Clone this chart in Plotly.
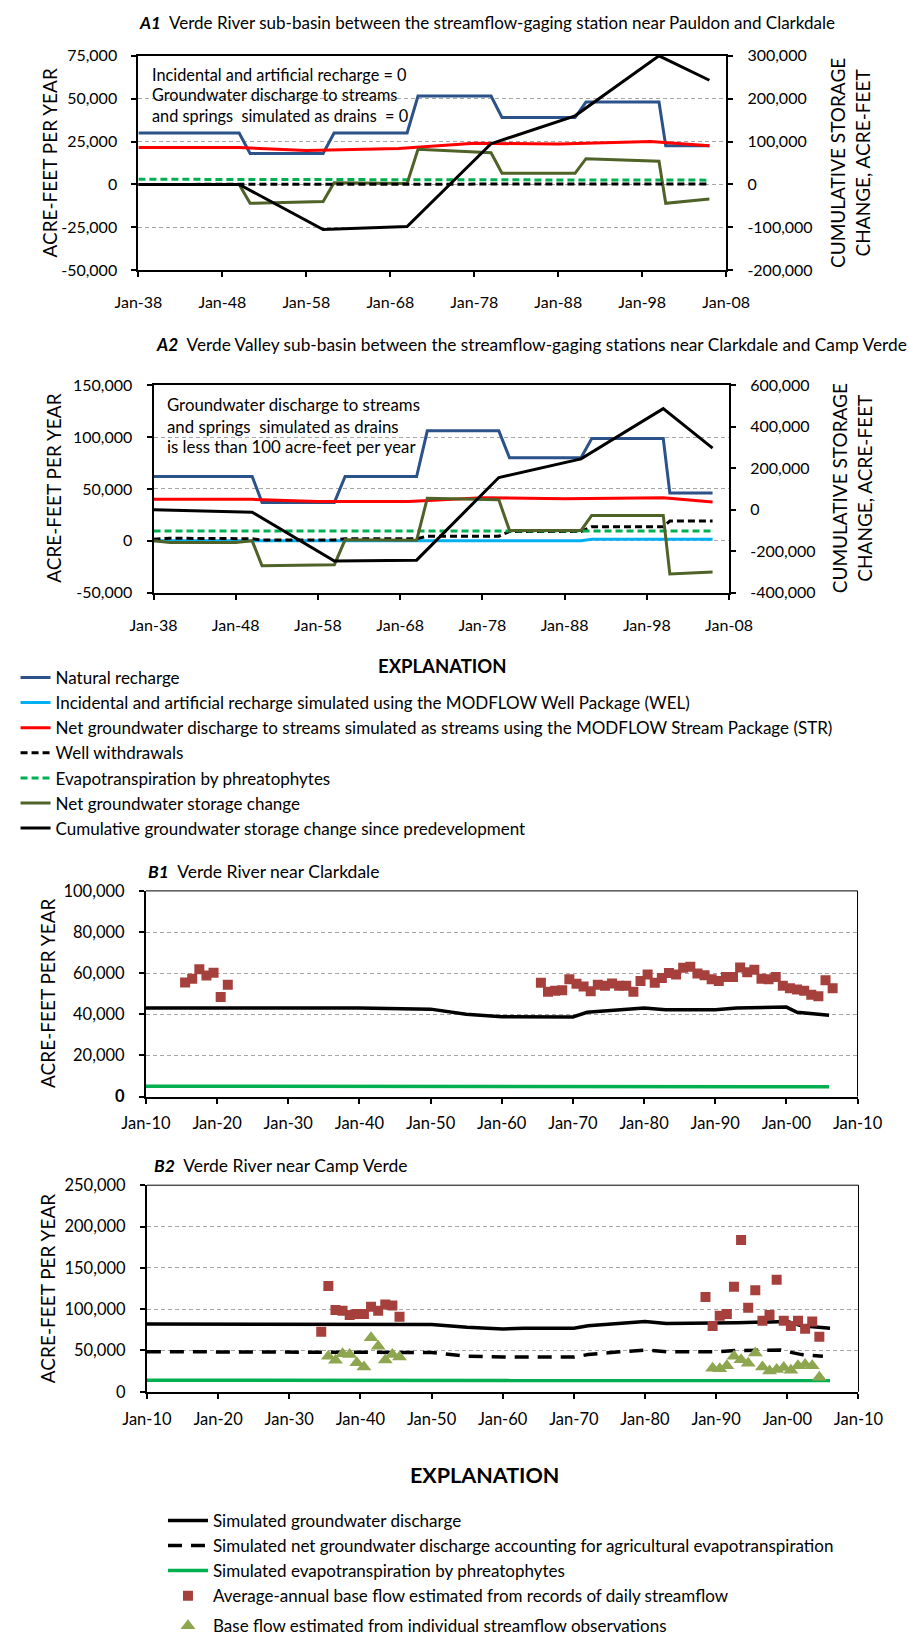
import plotly.graph_objects as go

W, H = 909, 1644
FONT = "Lato"


def fx(px):
    return px / W


def fy(py):
    return 1 - py / H


# ---------------- A1: Verde River sub-basin (Paulden to Clarkdale) ----------------
a1_step_years = [1938, 1950, 1951.3, 1960, 1961.3, 1970, 1971.3, 1980, 1981.3, 1990, 1991.3, 2000, 2000.8, 2006]
a1_natural_recharge = [30000, 30000, 18000, 18000, 30000, 30000, 51500, 51500, 39000, 39000, 48000, 48000, 22500, 22500]
a1_storage_change = [0, 0, -11000, -10000, 1000, 500, 20500, 18500, 6500, 6500, 15000, 13500, -11000, -8500]
a1_str_years = [1938, 1950, 1958, 1969, 1978, 1988, 1999, 2006]
a1_str_discharge = [21500, 21500, 19800, 21000, 24000, 23500, 25000, 22500]
a1_et_years = [1938, 1970, 2006]
a1_et = [3000, 2800, 2500]
a1_well_years = [1938, 2006]
a1_wells = [0, 300]
a1_cum_years = [1938, 1950, 1960, 1970, 1980, 1990, 2000, 2006]
a1_cumulative = [0, 0, -105000, -98000, 95000, 160000, 300000, 243000]

# ---------------- A2: Verde Valley sub-basin (Clarkdale to Camp Verde) ----------------
a2_step_years = [1938, 1950, 1951.2, 1960, 1961.3, 1970, 1971.3, 1980, 1981.3, 1990, 1991.3, 2000, 2000.8, 2006]
a2_natural_recharge = [62000, 62000, 37000, 37000, 62000, 62000, 106000, 106000, 80000, 80000, 98500, 98500, 46000, 46000]
a2_str_years = [1938, 1950, 1958, 1969, 1978, 1988, 2000, 2006]
a2_str_discharge = [40000, 40000, 37800, 38000, 41500, 40500, 41500, 37500]
a2_wel_years = [1938, 1990, 1991.3, 2006]
a2_wel_recharge = [0, 0, 1500, 1500]
a2_well_years = [1938, 1940, 1950, 1951.2, 1960, 1961.3, 1970, 1971.3, 1980, 1981.3, 1990, 1991.3, 2000, 2000.8, 2006]
a2_wells = [1500, 2500, 2000, 700, 700, 2000, 2000, 4500, 4500, 9000, 9000, 13500, 13500, 19000, 19000]
a2_et_years = [1938, 2006]
a2_et = [9500, 9500]
a2_storage_years = [1938, 1940, 1948, 1950, 1951.2, 1960, 1961.3, 1970, 1971.3, 1980, 1981.3, 1990, 1991.3, 2000, 2000.8, 2006]
a2_storage_change = [0, -1500, -1500, 0, -24000, -23000, 1000, 500, 41000, 39500, 10000, 10000, 24500, 24500, -32000, -30000]
a2_cum_years = [1938, 1950, 1960, 1970, 1980, 1990, 2000, 2006]
a2_cumulative = [0, -12000, -247000, -243000, 155000, 245000, 487000, 297000]

# ---------------- B1: Verde River near Clarkdale ----------------
b1_sim_years = [1910, 1940, 1950, 1955, 1960, 1970, 1972, 1977, 1980, 1983, 1990, 1993, 2000, 2001.5, 2006]
b1_sim_discharge = [43000, 43000, 42500, 40000, 38800, 38700, 41000, 42500, 43000, 42200, 42200, 43000, 43500, 41000, 39500]
b1_et_years = [1910, 1962, 1963, 2006]
b1_et = [5000, 5000, 4700, 4700]
b1_daily_years = [1915.5, 1916.5, 1917.5, 1918.5, 1919.5, 1920.5, 1921.5,
                  1965.5, 1966.5, 1967.5, 1968.5, 1969.5, 1970.5, 1971.5, 1972.5, 1973.5, 1974.5,
                  1975.5, 1976.5, 1977.5, 1978.5, 1979.5, 1980.5, 1981.5, 1982.5, 1983.5, 1984.5,
                  1985.5, 1986.5, 1987.5, 1988.5, 1989.5, 1990.5, 1991.5, 1992.5, 1993.5, 1994.5,
                  1995.5, 1996.5, 1997.5, 1998.5, 1999.5, 2000.5, 2001.5, 2002.5, 2003.5, 2004.5,
                  2005.5, 2006.5]
b1_daily_baseflow = [55400, 57300, 61900, 58800, 60200, 48400, 54400,
                     55300, 51000, 51400, 51700, 57000, 54900, 53500, 51200, 54400, 53900,
                     55000, 53900, 53900, 51000, 56200, 59400, 55300, 57700, 60100, 59400,
                     62600, 63100, 59800, 59000, 57000, 56200, 58100, 58100, 62800, 60500,
                     61700, 57300, 57000, 58100, 53900, 52600, 52000, 51500, 49500, 48800,
                     56600, 52600]

# ---------------- B2: Verde River near Camp Verde ----------------
b2_sim_years = [1910, 1950, 1955, 1960, 1963, 1970, 1972, 1977, 1980, 1983, 1990, 1993, 2000, 2002, 2006]
b2_sim_discharge = [82000, 81500, 78000, 76000, 77000, 77000, 80000, 83000, 85000, 82500, 82500, 83500, 85000, 80000, 77000]
b2_net_years = [1910, 1950, 1955, 1960, 1970, 1972, 1976, 1980, 1983, 1990, 1993, 1999, 2002, 2005]
b2_net_discharge = [48500, 47500, 43000, 42000, 42000, 45000, 48000, 50500, 48500, 48500, 50000, 50500, 45000, 43000]
b2_et_years = [1910, 1982, 1983, 2006]
b2_et = [14000, 14000, 13500, 13500]
b2_daily_years = [1934.5, 1935.5, 1936.5, 1937.5, 1938.5, 1939.5, 1940.5, 1941.5, 1942.5, 1943.5, 1944.5, 1945.5,
                  1988.5, 1989.5, 1990.5, 1991.5, 1992.5, 1993.5, 1994.5, 1995.5, 1996.5, 1997.5,
                  1998.5, 1999.5, 2000.5, 2001.5, 2002.5, 2003.5, 2004.5]
b2_daily_baseflow = [72500, 128000, 99000, 98000, 93000, 94000, 94000, 103000, 98000, 105700, 104500, 90900,
                     114700, 79600, 92000, 94000, 127000, 183700, 101800, 123000, 86000, 93000,
                     135700, 86000, 79600, 86000, 76400, 85000, 66700]
b2_obs_years = [1935.5, 1936.5, 1937.5, 1938.5, 1939.5, 1940.5, 1941.5, 1942.5, 1943.5, 1944.5, 1945.5,
                1989.5, 1990.5, 1991.5, 1992.5, 1993.5, 1994.5, 1995.5, 1996.5, 1997.5, 1998.5,
                1999.5, 2000.5, 2001.5, 2002.5, 2003.5, 2004.5]
b2_obs_baseflow = [43000, 38000, 46000, 45000, 35000, 30000, 65500, 55000, 38600, 45000, 42000,
                   28500, 28000, 31500, 43000, 38700, 34500, 47000, 30000, 25000, 27000,
                   29400, 26000, 31500, 33000, 31500, 17600]

# ---------------- axis ticks ----------------
a_tick_years = [1938, 1948, 1958, 1968, 1978, 1988, 1998, 2008]
a_tick_text = ["Jan-38", "Jan-48", "Jan-58", "Jan-68", "Jan-78", "Jan-88", "Jan-98", "Jan-08"]
b_tick_years = [1910, 1920, 1930, 1940, 1950, 1960, 1970, 1980, 1990, 2000, 2010]
b_tick_text = ["Jan-10", "Jan-20", "Jan-30", "Jan-40", "Jan-50", "Jan-60", "Jan-70", "Jan-80", "Jan-90", "Jan-00", "Jan-10"]
a1_left_vals = [-50000, -25000, 0, 25000, 50000, 75000]
a1_left_text = ["-50,000", "-25,000", "0", "25,000", "50,000", "75,000"]
a1_right_vals = [-200000, -100000, 0, 100000, 200000, 300000]
a1_right_text = ["-200,000", "-100,000", "0", "100,000", "200,000", "300,000"]
a2_left_vals = [-50000, 0, 50000, 100000, 150000]
a2_left_text = ["-50,000", "0", "50,000", "100,000", "150,000"]
a2_right_vals = [-400000, -200000, 0, 200000, 400000, 600000]
a2_right_text = ["-400,000", "-200,000", "0", "200,000", "400,000", "600,000"]
b1_vals = [0, 20000, 40000, 60000, 80000, 100000]
b1_text = ["<b>0</b>", "20,000", "40,000", "60,000", "80,000", "100,000"]
b2_vals = [0, 50000, 100000, 150000, 200000, 250000]
b2_text = ["0", "50,000", "100,000", "150,000", "200,000", "250,000"]

# colours
C_NAT = "#2B5289"
C_WEL = "#00B0F0"
C_STR = "#FF0000"
C_WELLS = "#000000"
C_ET = "#00B050"
C_STOR = "#4F6228"
C_CUM = "#000000"
C_SQ = "#A5403D"
C_TRI = "#8DA64F"

# plot rectangles in pixels: (left, right, top, bottom)
A1_BOX = (120, 742, 47, 267)
A2_BOX = (136, 745, 385, 598)
B1_BOX = (128, 881, 904, 1115)
B2_BOX = (129, 882, 1206, 1418)

fig = go.Figure()


def line(x, y, color, xa, ya, width=3, dash="solid", name=None, legend=None, group=None, showlegend=False):
    kw = dict(x=x, y=y, mode="lines", xaxis=xa, yaxis=ya,
              line=dict(color=color, width=width, dash=dash),
              name=name, showlegend=showlegend, hoverinfo="skip")
    if legend:
        kw["legend"] = legend
        kw["legendgroup"] = group or name
    fig.add_trace(go.Scatter(**kw))


SHORT_DASH = "7px,4px"

# A1 traces
line(a1_step_years, a1_natural_recharge, C_NAT, "x", "y")
line(a1_str_years, a1_str_discharge, C_STR, "x", "y")
line(a1_et_years, a1_et, C_ET, "x", "y", dash=SHORT_DASH)
line(a1_step_years, a1_storage_change, C_STOR, "x", "y")
line(a1_well_years, a1_wells, C_WELLS, "x", "y", dash=SHORT_DASH)
line(a1_cum_years, a1_cumulative, C_CUM, "x", "y2")

# A2 traces (these carry the shared legend)
line(a2_step_years, a2_natural_recharge, C_NAT, "x2", "y3", name="Natural recharge",
     legend="legend", group="a", showlegend=True)
line(a2_wel_years, a2_wel_recharge, C_WEL, "x2", "y3",
     name="Incidental and artificial recharge simulated using the MODFLOW Well Package (WEL)",
     legend="legend", group="a", showlegend=True)
line(a2_str_years, a2_str_discharge, C_STR, "x2", "y3",
     name="Net groundwater discharge to streams simulated as streams using the MODFLOW Stream Package (STR)",
     legend="legend", group="a", showlegend=True)
line(a2_well_years, a2_wells, C_WELLS, "x2", "y3", dash=SHORT_DASH, name="Well withdrawals",
     legend="legend", group="a", showlegend=True)
line(a2_et_years, a2_et, C_ET, "x2", "y3", dash=SHORT_DASH, name="Evapotranspiration by phreatophytes",
     legend="legend", group="a", showlegend=True)
line(a2_storage_years, a2_storage_change, C_STOR, "x2", "y3", name="Net groundwater storage change",
     legend="legend", group="a", showlegend=True)
line(a2_cum_years, a2_cumulative, C_CUM, "x2", "y4",
     name="Cumulative groundwater storage change since predevelopment",
     legend="legend", group="a", showlegend=True)

# B1 traces
line(b1_sim_years, b1_sim_discharge, "#000000", "x3", "y5", width=3.5)
line(b1_et_years, b1_et, C_ET, "x3", "y5", width=3.5)
fig.add_trace(go.Scatter(x=b1_daily_years, y=b1_daily_baseflow, mode="markers", xaxis="x3", yaxis="y5",
                         marker=dict(symbol="square", size=10, color=C_SQ), showlegend=False, hoverinfo="skip"))

# B2 traces (these carry the second legend)
line(b2_sim_years, b2_sim_discharge, "#000000", "x4", "y6", width=3.5,
     name="Simulated groundwater discharge", legend="legend2", group="b", showlegend=True)
line(b2_net_years, b2_net_discharge, "#000000", "x4", "y6", width=3.5, dash="14px,9px",
     name="Simulated net groundwater discharge accounting for agricultural evapotranspiration",
     legend="legend2", group="b", showlegend=True)
line(b2_et_years, b2_et, C_ET, "x4", "y6", width=3.5,
     name="Simulated evapotranspiration by phreatophytes", legend="legend2", group="b", showlegend=True)
fig.add_trace(go.Scatter(x=b2_daily_years, y=b2_daily_baseflow, mode="markers", xaxis="x4", yaxis="y6",
                         marker=dict(symbol="square", size=10, color=C_SQ),
                         name="Average-annual base flow estimated from records of daily streamflow",
                         legend="legend2", legendgroup="b", showlegend=True, hoverinfo="skip"))
fig.add_trace(go.Scatter(x=b2_obs_years, y=b2_obs_baseflow, mode="markers", xaxis="x4", yaxis="y6",
                         marker=dict(symbol="triangle-up", size=13, color=C_TRI),
                         name="Base flow estimated from individual streamflow observations",
                         legend="legend2", legendgroup="c", showlegend=True, hoverinfo="skip"))

GRID = dict(showgrid=True, gridcolor="#A6A6A6", griddash="4px,3px", gridwidth=1)


def xaxis_cfg(box, rng, vals, text, anchor, standoff, size):
    return dict(domain=[fx(box[0]), fx(box[1])], range=rng, tickvals=vals, ticktext=text,
                anchor=anchor, showline=True, linecolor="#000000", linewidth=2, mirror=True,
                ticks="outside", ticklen=5, tickwidth=1.5, tickcolor="#000000",
                ticklabelstandoff=standoff, showgrid=False, zeroline=False,
                tickfont=dict(family=FONT, size=size, color="#000000"))


def yaxis_cfg(box, rng, vals, text, anchor, size, grid=True):
    cfg = dict(domain=[fy(box[3]), fy(box[2])], range=rng, tickvals=vals, ticktext=text,
               anchor=anchor, showline=True, linecolor="#000000", linewidth=2,
               ticks="outside", ticklen=5, tickwidth=1.5, tickcolor="#000000",
               ticklabelstandoff=11, zeroline=False,
               tickfont=dict(family=FONT, size=size, color="#000000"))
    if grid:
        cfg.update(GRID)
    else:
        cfg["showgrid"] = False
    return cfg


fig.update_layout(
    width=W, height=H, margin=dict(l=0, r=0, t=0, b=0),
    paper_bgcolor="#FFFFFF", plot_bgcolor="#FFFFFF",
    font=dict(family=FONT, size=16, color="#000000"),
    xaxis=xaxis_cfg(A1_BOX, [1938, 2008], a_tick_years, a_tick_text, "y", 12, 16),
    yaxis=yaxis_cfg(A1_BOX, [-50000, 75000], a1_left_vals, a1_left_text, "x", 16),
    yaxis2=dict(yaxis_cfg(A1_BOX, [-200000, 300000], a1_right_vals, a1_right_text, "x", 16, grid=False),
                overlaying="y", side="right"),
    xaxis2=xaxis_cfg(A2_BOX, [1938, 2008], a_tick_years, a_tick_text, "y3", 12, 16),
    yaxis3=yaxis_cfg(A2_BOX, [-50000, 150000], a2_left_vals, a2_left_text, "x2", 16),
    yaxis4=dict(yaxis_cfg(A2_BOX, [-400000, 600000], a2_right_vals, a2_right_text, "x2", 16, grid=False),
                overlaying="y3", side="right"),
    xaxis3=dict(xaxis_cfg(B1_BOX, [1910, 2010], b_tick_years, b_tick_text, "y5", 6, 16.5), mirror=False),
    yaxis5=yaxis_cfg(B1_BOX, [0, 100000], b1_vals, b1_text, "x3", 16.5),
    xaxis4=dict(xaxis_cfg(B2_BOX, [1910, 2010], b_tick_years, b_tick_text, "y6", 6, 16.5), mirror=False),
    yaxis6=yaxis_cfg(B2_BOX, [0, 250000], b2_vals, b2_text, "x4", 16.5),
    legend=dict(x=fx(-10), y=fy(667), xanchor="left", yanchor="top", bgcolor="rgba(0,0,0,0)",
                font=dict(family=FONT, size=17, color="#000000"), traceorder="grouped",
                tracegroupgap=0, itemwidth=30),
    legend2=dict(x=fx(146), y=fy(1532), xanchor="left", yanchor="top", bgcolor="rgba(0,0,0,0)",
                 font=dict(family=FONT, size=17, color="#000000"), traceorder="grouped",
                 tracegroupgap=5, itemwidth=40),
)

# thin frame on the open sides of the B panels
for xa, ya in (("x3", "y5"), ("x4", "y6")):
    fig.add_shape(type="line", xref=f"{xa} domain", yref=f"{ya} domain", x0=0, x1=1, y0=1, y1=1,
                  line=dict(color="#000000", width=1))
    fig.add_shape(type="line", xref=f"{xa} domain", yref=f"{ya} domain", x0=1, x1=1, y0=0, y1=1,
                  line=dict(color="#000000", width=1))


def text(x, y, s, size=16, anchor="left", angle=0):
    fig.add_annotation(x=fx(x), y=fy(y), xref="paper", yref="paper", text=s, showarrow=False,
                       xanchor=anchor, yanchor="middle", textangle=angle,
                       font=dict(family=FONT, size=size, color="#000000"))


# panel titles
text(119, 13, "<b><i>A1</i></b>  Verde River sub-basin between the streamflow-gaging station near Pauldon and Clarkdale", 17)
text(136, 343, "<b><i>A2</i></b>  Verde Valley sub-basin between the streamflow-gaging stations near Clarkdale and Camp Verde", 17.3)
text(128, 884, "<b><i>B1</i></b>  Verde River near Clarkdale", 17.5)
text(134, 1186, "<b><i>B2</i></b>  Verde River near Camp Verde", 17.5)

# notes inside the A panels
text(132, 66, "Incidental and artificial recharge = 0", 16.3)
text(132, 87, "Groundwater discharge to streams", 16.3)
text(132, 108, "and springs  simulated as drains  = 0", 16.3)
text(148, 405, "Groundwater discharge to streams", 16.8)
text(148, 427, "and springs  simulated as drains", 16.8)
text(148, 448, "is less than 100 acre-feet per year", 16.8)

# axis titles
for xc, yc in ((26, 157), (30, 491), (24, 1009), (24, 1312)):
    text(xc, yc, "ACRE-FEET PER YEAR", 19, anchor="center", angle=-90)
for xc, yc in ((873, 157), (876, 491)):
    fig.add_annotation(x=fx(xc), y=fy(yc), xref="paper", yref="paper",
                       text="CUMULATIVE STORAGE<br>CHANGE, ACRE-FEET", showarrow=False,
                       xanchor="center", yanchor="middle", textangle=-90,
                       font=dict(family=FONT, size=19, color="#000000"))

# explanation headings
text(442, 673, "<b>EXPLANATION</b>", 18.5, anchor="center")
text(486, 1503, "<b>EXPLANATION</b>", 21.5, anchor="center")

fig.write_html("out.html")
